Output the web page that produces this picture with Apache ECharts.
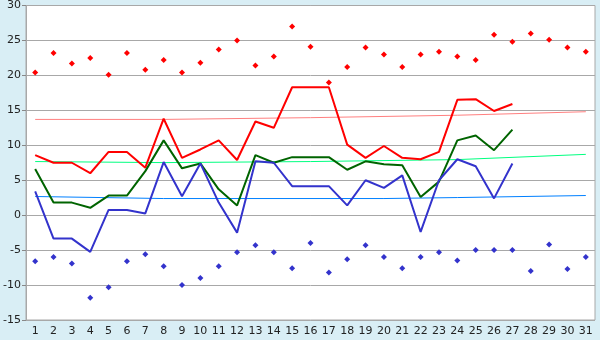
<!DOCTYPE html>
<html>
<head>
<meta charset="UTF-8">
<script src="https://cdn.jsdelivr.net/npm/echarts@6/dist/echarts.min.js"></script>
<style>
  body { margin: 0; background: #d9eef5; }
  #main { width: 600px; height: 340px; }
</style>
</head>
<body>
<div id="main"></div>
<script>
var days = [];
for (var d = 1; d <= 31; d++) days.push(String(d));

// daily temperatures (first 27 days)
var maxLine = [8.6, 7.5, 7.5, 6.0, 9.05, 9.05, 6.8, 13.8, 8.2, 9.4, 10.7, 7.9, 13.4, 12.5, 18.3, 18.3, 18.3,
               10.1, 8.2, 9.9, 8.2, 8.0, 9.05, 16.5, 16.6, 14.9, 15.9];
var meanLine = [6.6, 1.8, 1.8, 1.05, 2.8, 2.8, 6.3, 10.7, 6.7, 7.4, 3.7, 1.4, 8.6, 7.5, 8.3, 8.3, 8.3,
                6.5, 7.7, 7.3, 7.15, 2.6, 4.8, 10.7, 11.4, 9.3, 12.25];
var minLine = [3.4, -3.35, -3.35, -5.25, 0.75, 0.75, 0.25, 7.6, 2.7, 7.4, 1.8, -2.5, 7.7, 7.5, 4.15, 4.15, 4.15,
               1.4, 5.0, 3.9, 5.7, -2.4, 5.0, 8.0, 7.0, 2.4, 7.4];

// record highs / lows per day
var recordHigh = [20.4, 23.2, 21.7, 22.5, 20.1, 23.2, 20.8, 22.2, 20.4, 21.8, 23.7, 25.0, 21.4, 22.7, 27.0, 24.1,
                  19.0, 21.2, 24.0, 23.0, 21.2, 23.0, 23.4, 22.7, 22.2, 25.8, 24.8, 26.0, 25.1, 24.0, 23.4];
var recordLow = [-6.6, -6.0, -6.9, -11.8, -10.3, -6.6, -5.6, -7.3, -10.0, -9.0, -7.3, -5.3, -4.3, -5.3, -7.6, -4.0,
                 -8.2, -6.3, -4.3, -6.0, -7.6, -6.0, -5.3, -6.5, -5.0, -5.0, -5.0, -8.0, -4.2, -7.7, -6.0];

// normals (read at a few days)
var normalMax = [['1', 13.7], ['8', 13.7], ['16', 13.95], ['24', 14.3], ['31', 14.8]];
var normalMean = [['1', 7.67], ['8', 7.52], ['16', 7.67], ['24', 7.95], ['31', 8.7]];
var normalMin = [['1', 2.67], ['8', 2.38], ['20', 2.38], ['24', 2.52], ['31', 2.81]];

function line(data, color, width) {
  return { type: 'line', data: data, symbol: 'none', animation: false,
           lineStyle: { color: color, width: width }, z: width > 1 ? 3 : 2 };
}
function dots(data, color) {
  return { type: 'scatter', data: data, symbol: 'diamond', symbolSize: 6, animation: false,
           itemStyle: { color: color, opacity: 1 } };
}

var chart = echarts.init(document.getElementById('main'));
chart.setOption({
  backgroundColor: '#d9eef5',
  textStyle: { fontFamily: 'DejaVu Sans' },
  grid: { left: 26, right: 5, top: 5, bottom: 20, show: true, backgroundColor: '#fff',
          borderColor: '#a8a8a8', borderWidth: 1 },
  xAxis: {
    type: 'category', data: days, boundaryGap: true,
    axisLine: { lineStyle: { color: '#a8a8a8' } },
    axisTick: { alignWithLabel: true, length: 4, lineStyle: { color: '#888' } },
    axisLabel: { color: '#222', fontSize: 11, margin: 6, interval: 0 }
  },
  yAxis: {
    type: 'value', min: -15, max: 30, interval: 5,
    axisLine: { show: true, lineStyle: { color: '#a8a8a8' } },
    axisTick: { show: true, length: 4, lineStyle: { color: '#888' } },
    axisLabel: { color: '#222', fontSize: 11, margin: 5 },
    splitLine: { lineStyle: { color: '#a8a8a8' } }
  },
  series: [
    line(normalMax, '#ff8080', 1),
    line(normalMean, '#00ff80', 1),
    line(normalMin, '#0080ff', 1),
    line(maxLine, '#ff0000', 2),
    line(meanLine, '#006400', 2),
    line(minLine, '#3333cc', 2),
    dots(recordHigh, '#ff0000'),
    dots(recordLow, '#3333cc')
  ]
});
</script>
</body>
</html>
